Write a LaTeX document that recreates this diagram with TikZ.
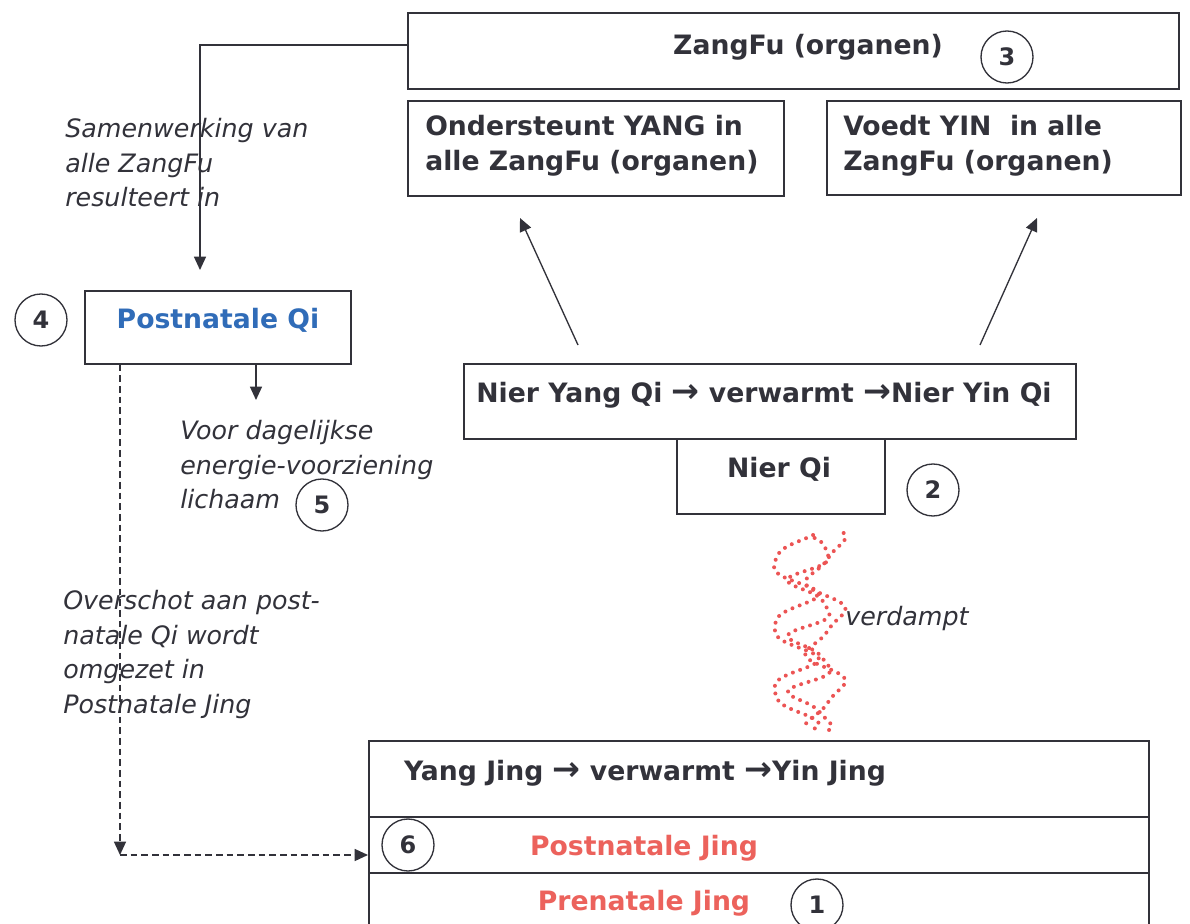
\documentclass[tikz,border=0pt]{standalone}
\usepackage{fontspec}
\setmainfont{DejaVu Sans}
\usetikzlibrary{arrows.meta}
\definecolor{ink}{RGB}{50,50,58}
\definecolor{jingred}{RGB}{236,98,92}
\definecolor{qiblue}{RGB}{48,108,184}
\definecolor{steam}{RGB}{236,84,84}
\newcommand{\arr}{{\fontsize{25}{25}\selectfont →}}
\begin{document}
\begin{tikzpicture}[x=0.75pt,y=-0.75pt,
  box/.style={draw=ink, line width=1.2pt, inner sep=0pt, anchor=north west},
  bt/.style={font=\fontsize{20}{26.25}\selectfont\bfseries, text=ink, inner sep=0pt, anchor=base},
  btl/.style={font=\fontsize{20}{26.25}\selectfont\bfseries, text=ink, inner sep=0pt, anchor=north west, align=left},
  it/.style={font=\fontsize{19}{26}\selectfont\itshape, text=ink, inner sep=0pt, anchor=north west, align=left},
  num/.style={circle, draw=ink, line width=1pt, minimum size=39pt, inner sep=0pt, font=\fontsize{18}{18}\selectfont\bfseries, text=ink},
  conn/.style={draw=ink, line width=1pt, -{Triangle[length=10pt,width=9pt]}},
  dconn/.style={draw=ink, line width=1pt, dash pattern=on 5pt off 3pt, -{Triangle[length=10pt,width=9pt]}},
  steamline/.style={draw=steam, line width=3pt, line cap=round, dash pattern=on 0pt off 5.8pt}
]
\clip (0,0) rectangle (1190,924);
\fill[white] (0,0) rectangle (1190,924);

% boxes
\node[box, minimum width=771*0.75pt, minimum height=76*0.75pt] (zangfu) at (407,12) {};
\node[box, minimum width=376*0.75pt, minimum height=95*0.75pt] (yangbox) at (407,100) {};
\node[box, minimum width=354*0.75pt, minimum height=94*0.75pt] (yinbox) at (826,100) {};
\node[box, minimum width=612*0.75pt, minimum height=75*0.75pt] (nieryang) at (463,363) {};
\node[box, minimum width=208*0.75pt, minimum height=75*0.75pt] (nierqi) at (676,438) {};
\node[box, minimum width=266*0.75pt, minimum height=73*0.75pt] (postqi) at (84,290) {};
\node[box, minimum width=780*0.75pt, minimum height=76*0.75pt] (jingtop) at (368,740) {};
\node[box, minimum width=780*0.75pt, minimum height=56*0.75pt] (jingpost) at (368,816) {};
\node[box, minimum width=780*0.75pt, minimum height=70*0.75pt] (jingpre) at (368,872) {};

% box texts
\node[bt] (tzangfu) at (808,55) {ZangFu (organen)};
\node[btl] (tyang) at (425,115) {Ondersteunt YANG in\\alle ZangFu (organen)};
\node[btl] (tyin) at (843,115) {Voedt YIN\ \ in alle\\ZangFu (organen)};
\node[bt] (tnieryang) at (764,402) {Nier Yang Qi \arr{} verwarmt \arr{}Nier Yin Qi};
\node[bt] (tnierqi) at (779,477) {Nier Qi};
\node[bt, text=qiblue] (tpostqi) at (218,328) {Postnatale Qi};
\node[bt] (tjingtop) at (645,780) {Yang Jing \arr{} verwarmt \arr{}Yin Jing};
\node[bt, text=jingred] (tjingpost) at (644,855) {Postnatale Jing};
\node[bt, text=jingred] (tjingpre) at (644,910) {Prenatale Jing};

% numbers
\node[num] (n3) at (1007,57) {3};
\node[num] (n2) at (933,490) {2};
\node[num] (n4) at (41,320) {4};
\node[num] (n5) at (322,505) {5};
\node[num] (n6) at (408,845) {6};
\node[num] (n1) at (817,905) {1};

% italic texts
\node[it] (tsamen) at (65,118) {Samenwerking van\\alle ZangFu\\resulteert in};
\node[it] (tvoor) at (180,420) {Voor dagelijkse\\energie-voorziening\\lichaam};
\node[it] (tover) at (63,590) {Overschot aan post-\\natale Qi wordt\\omgezet in\\Postnatale Jing};
\node[it] (tverd) at (845,606) {verdampt};

% connectors
\coordinate (c1) at (200,45);
\coordinate (c2) at (200,270);
\draw[conn] (zangfu.west |- c1) -- (c1) -- (c2);
\coordinate (c3) at (256,400);
\draw[conn] (postqi.south -| c3) -- (c3);
\coordinate (c4) at (120,855);
\draw[dconn] (postqi.south -| c4) -- (c4);
\draw[dconn] (c4) -- (jingpost.west |- c4);
\coordinate (a1s) at (578,345);
\coordinate (a1e) at (520,218);
\coordinate (a2s) at (980,345);
\coordinate (a2e) at (1037,218);
\draw[conn] (a1s) -- (a1e);
\draw[conn] (a2s) -- (a2e);

% steam
\draw[steamline] plot[smooth, domain=535:730, samples=90] ({792+22*sin(5.6*\x)+5*sin(11*\x+40)}, \x);
\draw[steamline] plot[smooth, domain=538:730, samples=90] ({812+20*sin(6.4*\x+150)+5*sin(13*\x+300)}, \x);
\draw[steamline] plot[smooth, domain=533:730, samples=90] ({826+18*sin(5*\x+260)+5*sin(10*\x+170)}, \x);
\end{tikzpicture}
\end{document}
